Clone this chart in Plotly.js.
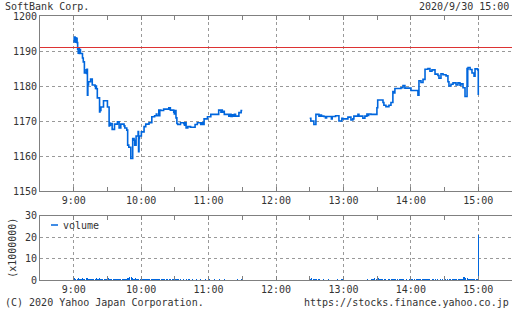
<!DOCTYPE html>
<html>
<head>
<meta charset="utf-8">
<script src="https://cdn.plot.ly/plotly-3.0.1.min.js"></script>
<style>
html,body{margin:0;padding:0;background:#fff;}
#chart{width:512px;height:310px;}
</style>
</head>
<body>
<div id="chart"></div>
<script>
// ---- data (minutes after 9:00, price in yen) ----
const amMinutes = [0,0.4,0.8,1.2,1.6,2.0,2.5,3.0,3.5,4.0,4.5,5.0,5.5,6.0,7.8,8.5,9.5,11.0,11.4,11.8,12.2,12.6,13.2,15.0,16.5,19.0,19.4,19.8,20.2,21.0,23.0,23.4,23.8,24.2,26.5,30.0,31.5,31.9,32.3,32.7,34.2,36.3,38.9,40.4,41.9,44.8,45.5,47.2,48.0,49.0,50.8,52.5,53.7,54.3,55.5,57.3,57.7,58.1,58.5,60.2,62.6,64.1,67,69.5,72,73.5,74,75.7,76.2,76.6,77.5,80,84.6,86,89,89.5,90,91,91.8,92.6,95,98,98.6,99.2,100,101.5,104,108,110,113,114,115,116,119,122,129,131,131.6,132.2,132.8,134,138,139,140,141,142,143,144,147,149,150];
const amPrice = [1194,1192.6,1194,1192.8,1193.8,1192.5,1193.6,1192.4,1190.5,1189.4,1190.6,1189.3,1190.4,1189.3,1188.0,1186.9,1183.7,1184.6,1183.6,1184.8,1177.4,1180.3,1181.2,1182.0,1180.3,1180.0,1179.3,1180.0,1179.2,1176.6,1172.6,1174.0,1173.0,1174.0,1175.8,1174.0,1168.6,1169.4,1168.8,1169.3,1167.6,1169.1,1169.8,1168.0,1169.1,1168.6,1168.0,1167.4,1163.1,1162.5,1159.3,1165.0,1164.5,1163.1,1165.7,1167.0,1161.2,1165.0,1165.7,1166.9,1168.4,1169.1,1169.5,1171.2,1171.5,1172.0,1171.5,1173.1,1171.5,1173.1,1173.0,1173.4,1173.8,1173.1,1172.5,1172.0,1173.0,1170.9,1169.3,1169.0,1169.5,1169.2,1168.8,1169.5,1168.0,1168.4,1168.2,1169.0,1169.5,1169.0,1169.5,1169.0,1170.6,1171.2,1171.9,1173.1,1172.5,1173.1,1172.5,1172.8,1171.9,1171.4,1171.9,1171.3,1171.8,1171.4,1171.9,1171.4,1172.4,1173.0,1173.0];
const pmMinutes = [210,211,213.7,215.5,218.2,219.5,220.5,222.6,224,225,228.8,229.3,230,233,236,238.6,239.5,244,246.7,248.4,249.3,252.9,253.8,257.3,259.1,260.9,261.5,262.5,264.5,269.8,270.5,275.2,276,277.8,280.5,282.3,284,285,285.8,291.2,293,294.7,300.1,306.3,307.2,309,310.8,312.6,315.2,317,318.8,321.5,324.1,325,326.8,328.6,331.3,333,333.9,335.7,337.5,340.2,341.9,343.7,344.5,346.4,348.2,350,350.3,350.6,350.9,352.7,354.4,356.2,357.1,359.5,360];
const pmPrice = [1170.8,1170.0,1169.0,1171.9,1171.4,1171.7,1171.4,1171.3,1170.9,1171.3,1171.3,1170.6,1171.3,1171.5,1170.0,1170.8,1170.6,1171.1,1170.3,1170.6,1171.4,1171.9,1171.4,1170.8,1171.4,1172.0,1171.6,1172.0,1171.9,1173.8,1176.0,1175.3,1174.5,1174.1,1174.5,1175.3,1178.4,1178.0,1179.3,1179.5,1180.1,1179.4,1178.7,1177.4,1181.5,1181.0,1181.9,1184.8,1185.0,1184.2,1184.6,1183.4,1183.0,1182.2,1183.5,1183.2,1182.9,1181.2,1180.0,1180.5,1180.9,1180.3,1180.9,1180.2,1180.6,1179.5,1177.0,1185.0,1180.0,1184.8,1185.3,1184.7,1183.7,1182.8,1184.9,1184.6,1177.4];
const basePrice = 1191;

// volume per minute (x1,000,000 shares): morning 9:00-11:30, afternoon 12:30-15:00
const amVolume = [1.9,
0.8,0.6,0.5,0.7,0.5,0.6,0.4,0.9,0.6,0.5,
0.7,0.9,0.5,0.4,0.6,0.5,0.4,0.3,0.6,0.8,
0.6,0.5,0.9,0.6,0.4,0.3,0.4,0.5,0.4,1.4,
1.0,0.6,0.5,0.4,0.6,0.4,0.3,0.4,0.5,0.6,
0.4,0.3,0.4,0.3,0.5,0.6,0.4,0.7,0.9,1.2,
1.3,0.8,0.6,0.5,0.7,0.4,0.6,0.5,0.4,0.5,
0.4,0.3,0.4,0.3,0.3,0.4,0.3,0.2,0.3,0.4,
0.3,0.3,0.4,0.6,0.3,0.3,0.2,0.3,0.4,0.3,
0.3,0.2,0.3,0.2,0.3,0.3,0.2,0.3,0.4,0.3,
0.5,0.3,0.3,0.2,0.3,0.2,0.2,0.3,0.2,0.3,
0.2,0.3,0.3,0.2,0.2,0.3,0.2,0.2,0.3,0.2,
0.2,0.2,0.3,0.2,0.2,0.2,0.3,0.2,0.2,0.3,
0.3,0.2,0.2,0.2,0.3,0.2,0.2,0.2,0.2,0.3,
0.2,0.2,0.2,0.3,0.2,0.2,0.2,0.2,0.2,0.2,
0.2,0.2,0.2,0.2,0.2,0.3,0.2,0.2,0.3,0.6];
const pmVolume = [1.5,
0.6,0.9,0.4,0.5,0.3,0.3,0.2,0.3,0.3,0.2,
0.2,0.3,0.2,0.2,0.2,0.2,0.3,0.2,0.2,0.2,
0.2,0.2,0.2,0.2,0.3,0.2,0.2,0.6,0.3,0.2,
0.2,0.2,0.2,0.2,0.2,0.2,0.2,0.2,0.2,0.2,
0.2,0.2,0.2,0.2,0.2,0.2,0.2,0.2,0.2,0.2,
0.3,0.2,0.2,0.2,0.3,0.3,0.5,0.8,0.6,1.3,
0.9,0.5,0.4,0.3,0.3,0.2,0.3,0.2,0.2,0.3,
0.3,0.2,0.4,0.6,0.4,0.3,0.2,0.3,0.2,0.3,
0.3,0.6,0.3,0.2,0.2,0.4,0.2,0.2,0.3,0.2,
0.3,0.2,0.3,0.2,0.5,0.3,0.5,0.6,0.3,0.5,
0.4,0.3,0.6,0.4,0.5,0.3,0.3,0.2,0.3,0.3,
0.2,0.3,0.2,0.3,0.2,0.3,0.2,0.3,0.2,0.3,
0.3,0.2,0.3,0.5,0.3,0.2,0.3,0.3,0.6,0.3,
0.4,0.3,0.3,0.5,0.4,0.6,1.2,1.6,1.1,0.9,
0.5,0.4,0.3,0.5,0.6,0.4,0.5,0.3,0.6,
20.8];
const amVolStart = 0, pmVolStart = 210;

// ---- helpers ----
function pad(n){return (n<10?'0':'')+n;}
function toTime(m){
  const s = Math.round(m*60) + 9*3600;
  const h = Math.floor(s/3600), mi = Math.floor((s%3600)/60), se = s%60;
  return '2020-09-30 '+pad(h)+':'+pad(mi)+':'+pad(se);
}
const amT = amMinutes.map(toTime), pmT = pmMinutes.map(toTime);
const volT = amVolume.map((v,i)=>toTime(amVolStart+i)).concat(pmVolume.map((v,i)=>toTime(pmVolStart+i)));
const volV = amVolume.concat(pmVolume);

const blue = '#0066dd';
const gridC = '#999999';
const axC = '#808080';
const txt = '#333333';
const FONT = 'DejaVu Sans Mono, Liberation Mono, monospace';

const traces = [
  {x: amT, y: amPrice, type:'scatter', mode:'lines', line:{shape:'hv', color:blue, width:1.6}, xaxis:'x', yaxis:'y', hoverinfo:'skip'},
  {x: pmT, y: pmPrice, type:'scatter', mode:'lines', line:{shape:'hv', color:blue, width:1.6}, xaxis:'x', yaxis:'y', hoverinfo:'skip'},
  {x: volT, y: volV, type:'bar', marker:{color:blue, line:{width:0}}, width:55000, xaxis:'x2', yaxis:'y2', hoverinfo:'skip'}
];

const xBase = {
  type:'date', range:['2020-09-30 08:30','2020-09-30 15:30'],
  tick0:'2020-09-30 09:00', dtick:3600000, tickformat:'%-H:%M',
  showgrid:true, gridcolor:gridC, griddash:'dot', gridwidth:1,
  showline:true, linecolor:axC, linewidth:1, mirror:'allticks',
  ticks:'inside', ticklen:4, tickcolor:axC,
  minor:{dtick:1800000, tick0:'2020-09-30 09:00', ticks:'inside', ticklen:4, tickcolor:axC, showgrid:false},
  tickfont:{family:FONT, size:10, color:txt}, zeroline:false, fixedrange:true
};

const layout = {
  width:512, height:310,
  margin:{l:40, r:0, t:16, b:30},
  paper_bgcolor:'#ffffff', plot_bgcolor:'#ffffff',
  showlegend:false, bargap:0,
  font:{family:FONT, size:10, color:txt},
  xaxis: Object.assign({}, xBase, {anchor:'y'}),
  xaxis2: Object.assign({}, xBase, {anchor:'y2', matches:'x'}),
  yaxis: {domain:[0.3371,1], range:[1150,1200], dtick:10, tick0:1150,
    showgrid:true, gridcolor:gridC, griddash:'dot', gridwidth:1,
    showline:true, linecolor:axC, linewidth:1, mirror:true, ticks:'', zeroline:false,
    tickfont:{family:FONT, size:10, color:txt}, fixedrange:true},
  yaxis2: {domain:[0,0.2443], range:[0,30], dtick:10, tick0:0,
    showgrid:true, gridcolor:gridC, griddash:'dot', gridwidth:1,
    showline:true, linecolor:axC, linewidth:1, mirror:true, ticks:'', zeroline:false,
    tickfont:{family:FONT, size:10, color:txt}, fixedrange:true,
    title:{text:'(x1000000)', font:{family:FONT, size:10, color:txt}, standoff:6}},
  shapes:[
    {type:'line', xref:'paper', x0:0, x1:1, yref:'y', y0:basePrice, y1:basePrice, line:{color:'#dd3333', width:1}},
    {type:'line', xref:'paper', x0:(51-40)/472, x1:(58-40)/472, yref:'paper', y0:(280-225)/264, y1:(280-225)/264, line:{color:blue, width:1.5}}
  ],
  annotations:[
    {text:'SoftBank Corp.', xref:'paper', yref:'paper', x:(3-40)/472, y:(280-7)/264, xanchor:'left', yanchor:'middle', showarrow:false, font:{family:FONT, size:10, color:txt}},
    {text:'2020/9/30 15:00', xref:'paper', yref:'paper', x:(511-40)/472, y:(280-7)/264, xanchor:'right', yanchor:'middle', showarrow:false, font:{family:FONT, size:10, color:txt}},
    {text:'(C) 2020 Yahoo Japan Corporation.', xref:'paper', yref:'paper', x:(3-40)/472, y:(280-302)/264, xanchor:'left', yanchor:'middle', showarrow:false, font:{family:FONT, size:10, color:txt}},
    {text:'https://stocks.finance.yahoo.co.jp', xref:'paper', yref:'paper', x:(511-40)/472, y:(280-302)/264, xanchor:'right', yanchor:'middle', showarrow:false, font:{family:FONT, size:10, color:txt}},
    {text:'volume', xref:'paper', yref:'paper', x:(61-40)/472, y:(280-225)/264, xanchor:'left', yanchor:'middle', showarrow:false, font:{family:FONT, size:10, color:txt}}
  ]
};

Plotly.newPlot('chart', traces, layout, {staticPlot:true, displayModeBar:false});
</script>
</body>
</html>
